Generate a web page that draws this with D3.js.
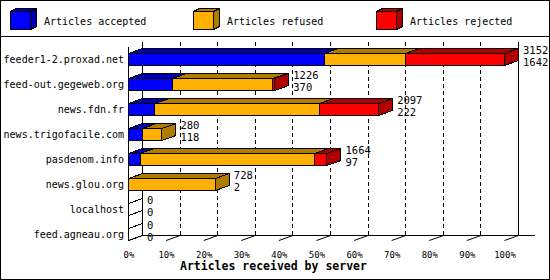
<!DOCTYPE html>
<html>
<head>
<meta charset="utf-8">
<script src="https://cdn.jsdelivr.net/npm/d3@7"></script>
<style>
  body { margin: 0; background: #fff; }
  text { font-family: "DejaVu Sans Mono", monospace; fill: #000; }
</style>
</head>
<body>
<script>
// data
const categories = ["feeder1-2.proxad.net", "feed-out.gegeweb.org", "news.fdn.fr",
  "news.trigofacile.com", "pasdenom.info", "news.glou.org", "localhost", "feed.agneau.org"];
const accepted = [1642, 370, 222, 118, 97, 2, 0, 0];
const refused  = [678, 840, 1379, 162, 1465, 726, 0, 0];
const rejected = [832, 16, 496, 0, 102, 0, 0, 0];
const seriesNames = ["Articles accepted", "Articles refused", "Articles rejected"];
const tickValues = [0, 10, 20, 30, 40, 50, 60, 70, 80, 90, 100];

const width = 550, height = 280;
const colors = ["#0000ff", "#ffb000", "#ff0000"];
const darks  = ["#0000b0", "#b07c00", "#b00000"];
const dx = 14, dy = 5;       // depth of the 3d effect
const barH = 12;

const series = [accepted, refused, rejected];
const totals = categories.map((c, i) => accepted[i] + refused[i] + rejected[i]);
const maxTotal = d3.max(totals);

const svg = d3.select("body").append("svg")
  .attr("width", width).attr("height", height)
  .attr("shape-rendering", "crispEdges");

// frame + legend separator
svg.append("rect").attr("x", 0.5).attr("y", 0.5)
  .attr("width", width - 1).attr("height", height - 1)
  .attr("fill", "#fff").attr("stroke", "#000");
svg.append("line").attr("x1", 0).attr("x2", width).attr("y1", 36.5).attr("y2", 36.5)
  .attr("stroke", "#000");

const pct = d3.scaleLinear().domain([0, 100]).range([128, 504]);
const x = v => pct(v / maxTotal * 100);
const y = d3.scaleBand().domain(categories).range([46.5, 246.5]);
const floorY = 240, backTop = 42;

const path = pts => "M" + pts.map(p => p.join(",")).join("L") + "Z";

function cube(g, x0, x1, top, h, ddx, ddy, fill, dark) {
  g.append("path").attr("d", path([[x0, top], [x1, top], [x1, top + h], [x0, top + h]]))
    .attr("fill", fill).attr("stroke", "#000");
  g.append("path").attr("d", path([[x0, top], [x0 + ddx, top - ddy], [x1 + ddx, top - ddy], [x1, top]]))
    .attr("fill", dark).attr("stroke", "#000");
  g.append("path").attr("d", path([[x1, top], [x1 + ddx, top - ddy], [x1 + ddx, top + h - ddy], [x1, top + h]]))
    .attr("fill", dark).attr("stroke", "#000");
}

// legend
const legendX = [10, 193, 376];
seriesNames.forEach((name, i) => {
  const g = svg.append("g");
  cube(g, legendX[i] + 0.5, legendX[i] + 20.5, 11.5, 18, 6, 3, colors[i], darks[i]);
  g.append("text").attr("x", legendX[i] + 34).attr("y", 25)
    .style("font-size", "10px").text(name);
});

// back walls and grid
const grid = svg.append("g");
grid.selectAll("line.grid")
  .data(tickValues.filter(t => t > 0 && t < 100))
  .join("line")
    .attr("x1", d => Math.round(pct(d) + dx) + 0.5).attr("x2", d => Math.round(pct(d) + dx) + 0.5)
    .attr("y1", backTop).attr("y2", floorY - dy)
    .attr("stroke", "#000").attr("stroke-dasharray", "4,3");
[pct(0) + dx, pct(100) + dx].forEach(xx => {
  grid.append("line").attr("x1", xx + 0.5).attr("x2", xx + 0.5)
    .attr("y1", backTop).attr("y2", floorY - dy + 0.5).attr("stroke", "#000");
});
grid.append("line").attr("x1", pct(0) + dx).attr("x2", 535)
  .attr("y1", floorY - dy + 0.5).attr("y2", floorY - dy + 0.5).attr("stroke", "#000");
grid.append("line").attr("x1", pct(0) + 0.5).attr("x2", pct(0) + 0.5)
  .attr("y1", 47).attr("y2", floorY).attr("stroke", "#000");

// floor ticks
grid.selectAll("line.tick")
  .data(tickValues)
  .join("line")
    .attr("shape-rendering", "auto")
    .attr("x1", d => pct(d) + 0.5).attr("y1", floorY + 0.5)
    .attr("x2", d => pct(d) + dx + 0.5).attr("y2", floorY - dy + 0.5)
    .attr("stroke", "#000");

// bars
const bars = svg.append("g");
categories.forEach((c, i) => {
  const top = Math.round(y(c) + y.bandwidth() / 2 - barH / 2) + 0.5;
  const x0 = pct(0) + 0.5;
  // empty slot outline (visible only for rows without articles)
  bars.append("path")
    .attr("d", path([[x0, top], [x0 + dx, top - dy], [x0 + dx, top + barH - dy], [x0, top + barH]]))
    .attr("fill", "none").attr("stroke", "#000");
  let cum = 0;
  series.forEach((s, k) => {
    if (s[i] > 0) {
      cube(bars, x(cum) + 0.5, x(cum + s[i]) + 0.5, top, barH, dx, dy, colors[k], darks[k]);
    }
    cum += s[i];
  });
  const lx = x(totals[i]) + dx + 5;
  bars.append("text").attr("x", lx).attr("y", top + 0.5)
    .style("font-size", "10.5px").text(totals[i]);
  bars.append("text").attr("x", lx).attr("y", top + barH + 0.5)
    .style("font-size", "10.5px").text(accepted[i]);
});

// category labels
svg.append("g").selectAll("text")
  .data(categories)
  .join("text")
    .attr("x", 124)
    .attr("y", d => y(d) + y.bandwidth() / 2 + 4)
    .attr("text-anchor", "end")
    .style("font-size", "10px")
    .text(d => d);

// x tick labels
svg.append("g").selectAll("text")
  .data(tickValues)
  .join("text")
    .attr("x", d => pct(d) + 1)
    .attr("y", 258)
    .attr("text-anchor", "middle")
    .style("font-size", "9px")
    .text(d => d + "%");

svg.append("text")
  .attr("x", 180).attr("y", 270)
  .style("font-size", "11.5px").style("font-weight", "bold")
  .text("Articles received by server");
</script>
</body>
</html>
